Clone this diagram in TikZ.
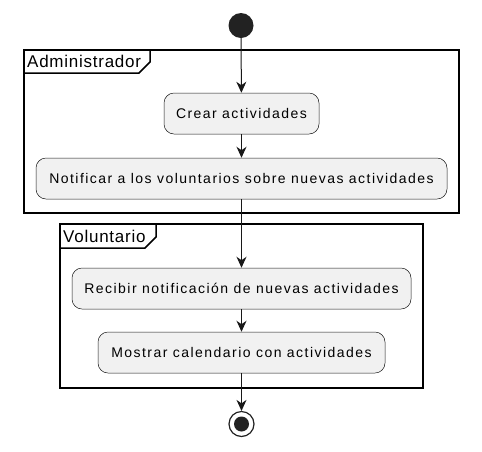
\documentclass[tikz,border=0pt]{standalone}
\usepackage{fontspec}
\setmainfont{Liberation Sans}
\newfontfamily\actfont[LetterSpace=10.5]{Liberation Sans}
\newfontfamily\lblfont[LetterSpace=4.4]{Liberation Sans}
\usetikzlibrary{arrows.meta}
\definecolor{boxfill}{HTML}{F1F1F1}
\definecolor{dark}{HTML}{181818}
\definecolor{dot}{HTML}{222222}
\begin{document}
\begin{tikzpicture}[x=1pt,y=-1pt,
  act/.style={draw=dark,line width=0.5pt,fill=boxfill,rounded corners=10pt,minimum height=41pt,inner sep=0pt,font=\actfont\fontsize{14}{16}\selectfont},
  frame/.style={draw=black,line width=1.5pt},
  flow/.style={draw=dark,line width=1pt,-{Stealth[length=11pt,width=10pt,inset=3.5pt]}},
  lbl/.style={anchor=base west,inner sep=0pt,font=\lblfont\fontsize{17}{19}\selectfont}]
\useasboundingbox (0,0) rectangle (482,451);
% frames
\draw[frame] (24,50) rectangle (459,213);
\draw[frame] (24,73) -- (139,73) -- (150,62) -- (150,50);
\node[lbl] (admlbl) at (27,67) {Administrador};
\draw[frame] (60,224) rectangle (423,388);
\draw[frame] (60,248) -- (145,248) -- (156,237) -- (156,224);
\node[lbl] (vollbl) at (63,242) {Voluntario};
% nodes
\node[circle,fill=dot,minimum size=25pt,inner sep=0pt] (start) at (241,25.5) {};
\node[act,minimum width=155pt] (crear) at (241.5,113.5) {Crear actividades};
\node[act,minimum width=411pt] (notif) at (241.5,178.5) {Notificar a los voluntarios sobre nuevas actividades};
\node[act,minimum width=339pt] (recib) at (241.5,288.5) {Recibir notificación de nuevas actividades};
\node[act,minimum width=287pt] (mostr) at (241.5,352.5) {Mostrar calendario con actividades};
\node[circle,draw=dot,line width=1.2pt,fill=white,minimum size=25pt,inner sep=0pt] (fin) at (241.5,424) {};
\node[circle,fill=dot,minimum size=15pt,inner sep=0pt] (findot) at (241.5,424) {};
% flows
\draw[flow] (start) -- (crear);
\draw[flow] (crear) -- (notif);
\draw[flow] (notif) -- (recib);
\draw[flow] (recib) -- (mostr);
\draw[flow] (mostr) -- (fin);
\end{tikzpicture}
\end{document}
